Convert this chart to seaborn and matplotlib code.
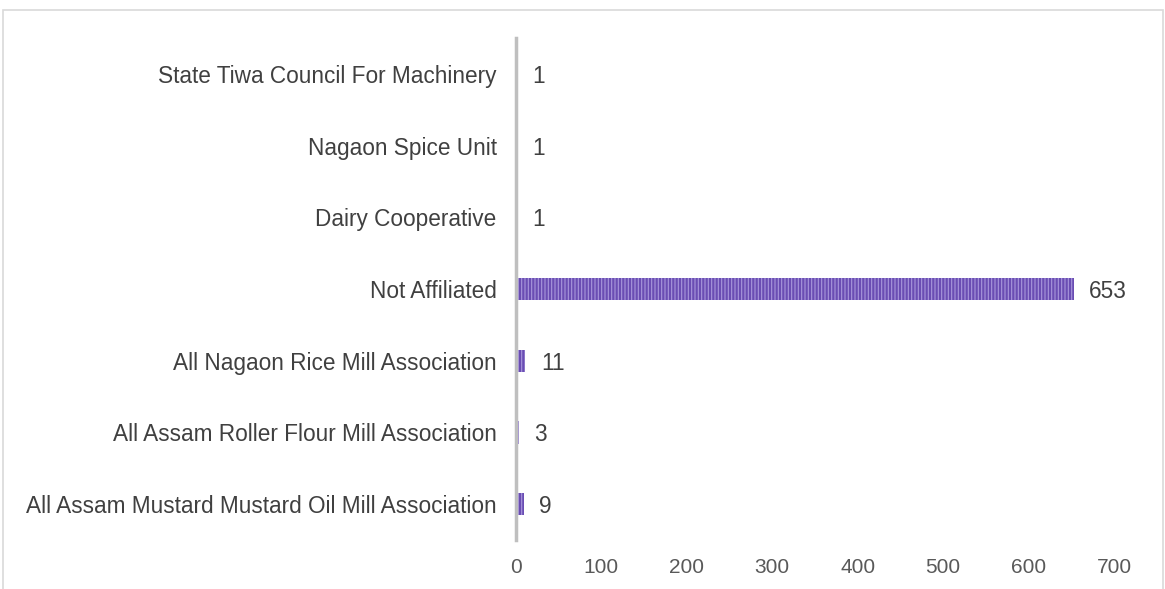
"""Horizontal bar chart of unit affiliations."""

import matplotlib.pyplot as plt
import pandas as pd
import seaborn as sns
from matplotlib.patches import Rectangle

CATEGORIES = [
    "State Tiwa Council For Machinery",
    "Nagaon Spice Unit",
    "Dairy Cooperative",
    "Not Affiliated",
    "All Nagaon Rice Mill Association",
    "All Assam Roller Flour Mill Association",
    "All Assam Mustard Mustard Oil Mill Association",
]
COUNTS = [1, 1, 1, 653, 11, 3, 9]
X_TICKS = [0, 100, 200, 300, 400, 500, 600, 700]

BAR_COLOR = "#6a4db3"
HATCH_COLOR = "#a897dc"
TEXT_COLOR = "#404040"


def main() -> None:
    sns.set_style("white")
    plt.rcParams["font.family"] = ["Liberation Sans", "DejaVu Sans"]
    plt.rcParams["hatch.linewidth"] = 0.8

    df = pd.DataFrame({"category": CATEGORIES, "count": COUNTS})

    fig = plt.figure(figsize=(11.65, 5.89), dpi=100)
    ax = fig.add_axes([516 / 1165, 1 - 540 / 589, (1114 - 516) / 1165, (540 - 38) / 589])

    sns.barplot(data=df, x="count", y="category", orient="h", color=BAR_COLOR,
                width=0.31, saturation=1, ax=ax)
    for patch in ax.patches:
        patch.set_hatch("|||||")
        patch.set_edgecolor(HATCH_COLOR)
        patch.set_linewidth(0)

    for i, v in enumerate(COUNTS):
        ax.text(v + 18, i, str(v), va="center_baseline", ha="left", fontsize=16.3, color=TEXT_COLOR)

    ax.set_xlim(0, 700)
    ax.set_ylim(6.5, -0.5)
    ax.set_xticks(X_TICKS)
    ax.set(xlabel="", ylabel="")
    ax.tick_params(axis="x", labelsize=15, labelcolor="#595959", length=0, pad=13)
    ax.tick_params(axis="y", labelsize=16.3, labelcolor=TEXT_COLOR, length=0, pad=14)
    for side in ("top", "right", "bottom"):
        ax.spines[side].set_visible(False)
    ax.spines["left"].set_color("#bfbfbf")
    ax.spines["left"].set_linewidth(2.5)

    fig.patches.append(Rectangle((3 / 1165, -0.05), 1160 / 1165, 1.05 - 10 / 589,
                                 transform=fig.transFigure, fill=False,
                                 edgecolor="#d9d9d9", linewidth=1.2))

    fig.savefig("out.png", dpi=100)
    plt.close(fig)


if __name__ == "__main__":
    main()
